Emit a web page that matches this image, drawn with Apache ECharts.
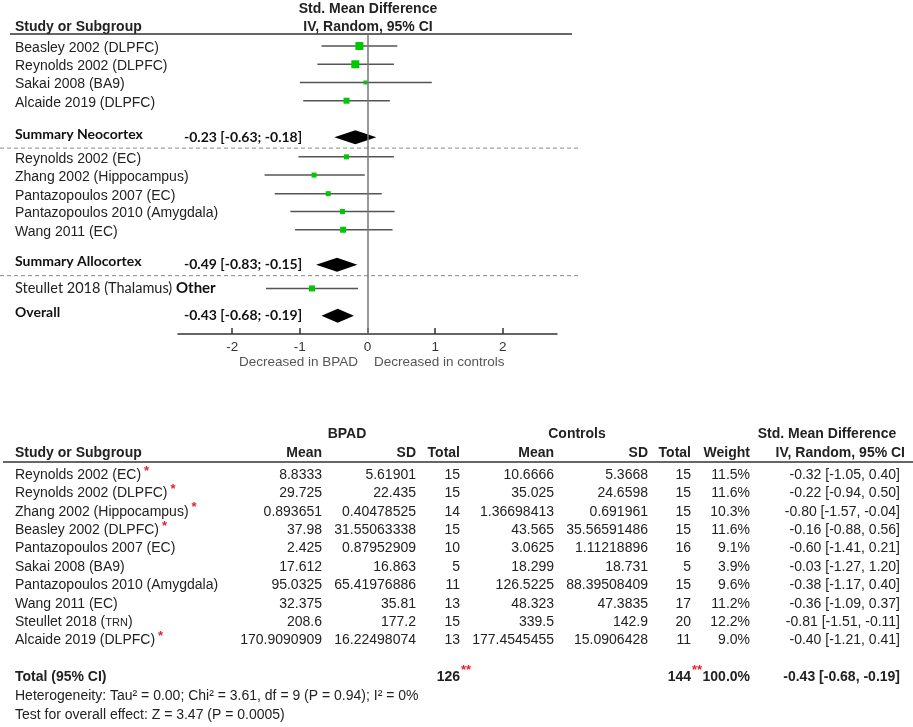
<!DOCTYPE html>
<html lang="en">
<head>
  <meta charset="UTF-8">
  <title>Forest plot</title>
  <script src="https://cdn.jsdelivr.net/npm/echarts@6/dist/echarts.min.js"></script>
  <style>html,body{margin:0;padding:0;background:#fff}#chart{width:913px;height:727px}</style>
</head>
<body>
<div id="chart"></div>
<script>
const studies = ['Beasley 2002 (DLPFC)', 'Reynolds 2002 (DLPFC)', 'Sakai 2008 (BA9)', 'Alcaide 2019 (DLPFC)',
  'Reynolds 2002 (EC)', 'Zhang 2002 (Hippocampus)', 'Pantazopoulos 2007 (EC)', 'Pantazopoulos 2010 (Amygdala)',
  'Wang 2011 (EC)', 'Steullet 2018 (Thalamus)'];
const studyTag = ['', '', '', '', '', '', '', '', '', 'Other'];
const studyRow = [0, 1, 2, 3, 6.08, 7.08, 8.1, 9.08, 10.08, 13.3];
const studyEst = [-0.12, -0.18, -0.03, -0.31, -0.31, -0.79, -0.58, -0.37, -0.36, -0.82];
const studyLo = [-0.68, -0.74, -1.00, -0.95, -1.02, -1.52, -1.37, -1.14, -1.07, -1.50];
const studyHi = [0.44, 0.39, 0.95, 0.33, 0.39, -0.04, 0.21, 0.40, 0.37, -0.14];
const studySize = [8, 8, 4, 6, 5, 5, 5, 5, 6, 6];

const sumLabels = ['Summary Neocortex', 'Summary Allocortex', 'Overall'];
const sumText = ['-0.23 [-0.63; -0.18]', '-0.49 [-0.83; -0.15]', '-0.43 [-0.68; -0.19]'];
const sumRow = [5, 12, 14.8];
const sumEst = [-0.18, -0.45, -0.44];
const sumLo = [-0.49, -0.76, -0.68];
const sumHi = [0.13, -0.15, -0.20];
const sepRow = [5.6, 12.6];
const xTicks = [-2, -1, 0, 1, 2];

// ---- bottom panel: table ----
const tblStudy = ['Reynolds 2002 (EC)', 'Reynolds 2002 (DLPFC)', 'Zhang 2002 (Hippocampus)', 'Beasley 2002 (DLPFC)',
  'Pantazopoulos 2007 (EC)', 'Sakai 2008 (BA9)', 'Pantazopoulos 2010 (Amygdala)', 'Wang 2011 (EC)',
  'Steullet 2018 (TRN)', 'Alcaide 2019 (DLPFC)'];
const tblStar = [1, 1, 1, 1, 0, 0, 0, 0, 0, 1];
const bpadMean = ['8.8333', '29.725', '0.893651', '37.98', '2.425', '17.612', '95.0325', '32.375', '208.6', '170.9090909'];
const bpadSD = ['5.61901', '22.435', '0.40478525', '31.55063338', '0.87952909', '16.863', '65.41976886', '35.81', '177.2', '16.22498074'];
const bpadN = ['15', '15', '14', '15', '10', '5', '11', '13', '15', '13'];
const ctlMean = ['10.6666', '35.025', '1.36698413', '43.565', '3.0625', '18.299', '126.5225', '48.323', '339.5', '177.4545455'];
const ctlSD = ['5.3668', '24.6598', '0.691961', '35.56591486', '1.11218896', '18.731', '88.39508409', '47.3835', '142.9', '15.0906428'];
const ctlN = ['15', '15', '15', '15', '16', '5', '15', '17', '20', '11'];
const weight = ['11.5%', '11.6%', '10.3%', '11.6%', '9.1%', '3.9%', '9.6%', '11.2%', '12.2%', '9.0%'];
const smdCI = ['-0.32 [-1.05, 0.40]', '-0.22 [-0.94, 0.50]', '-0.80 [-1.57, -0.04]', '-0.16 [-0.88, 0.56]',
  '-0.60 [-1.41, 0.21]', '-0.03 [-1.27, 1.20]', '-0.38 [-1.17, 0.40]', '-0.36 [-1.09, 0.37]',
  '-0.81 [-1.51, -0.11]', '-0.40 [-1.21, 0.41]'];
const totalRow = ['Total (95% CI)', '126', '144', '100.0%', '-0.43 [-0.68, -0.19]'];
const footNotes = ['Heterogeneity: Tau\u00b2 = 0.00; Chi\u00b2 = 3.61, df = 9 (P = 0.94); I\u00b2 = 0%',
  'Test for overall effect: Z = 3.47 (P = 0.0005)'];

const ARIAL = 'Liberation Sans';
const CAL = 'Lato';
const INK = '#222';
const FS = 14;

const ctx = document.createElement('canvas').getContext('2d');
function textW(str, font) { ctx.font = font; return ctx.measureText(str).width; }

function txt(x, y, text, opt) {
  opt = opt || {};
  return {
    type: 'text', x: x, y: y, silent: true,
    style: {
      text: text, fill: opt.fill || INK, align: opt.align || 'left', verticalAlign: 'middle',
      font: (opt.bold ? 'bold ' : '') + (opt.size || FS) + 'px "' + (opt.family || ARIAL) + '"'
    }
  };
}

// ---- graphic: headers and table ----
const g = [];
g.push(txt(368, 9, 'Std. Mean Difference', { bold: true, align: 'center' }));
g.push(txt(368, 27, 'IV, Random, 95% CI', { bold: true, align: 'center' }));
g.push(txt(15, 27, 'Study or Subgroup', { bold: true }));
g.push({ type: 'line', silent: true, shape: { x1: 10, y1: 34, x2: 572, y2: 34 }, style: { stroke: '#333', lineWidth: 1.5 } });
g.push(txt(358, 362, 'Decreased in BPAD', { fill: '#555', align: 'right', size: 13.5 }));
g.push(txt(374, 362, 'Decreased in controls', { fill: '#555', size: 13.5 }));

const colRight = [322, 416, 460, 554, 648, 691, 750, 900];
const tblTop = 475, tblStep = 18.4;
g.push(txt(347, 434, 'BPAD', { bold: true, align: 'center' }));
g.push(txt(577, 434, 'Controls', { bold: true, align: 'center' }));
g.push(txt(827, 434, 'Std. Mean Difference', { bold: true, align: 'center' }));
g.push(txt(15, 453, 'Study or Subgroup', { bold: true }));
['Mean', 'SD', 'Total', 'Mean', 'SD', 'Total', 'Weight'].forEach((h, i) => {
  g.push(txt(colRight[i], 453, h, { bold: true, align: 'right' }));
});
g.push(txt(905, 453, 'IV, Random, 95% CI', { bold: true, align: 'right' }));
g.push({ type: 'line', silent: true, shape: { x1: 3, y1: 462, x2: 913, y2: 462 }, style: { stroke: '#333', lineWidth: 1.5 } });

const fontRow = FS + 'px "' + ARIAL + '"';
tblStudy.forEach((name, i) => {
  const y = tblTop + i * tblStep;
  const m = name.match(/^(.*\()(TRN)(\))$/);
  if (m) {
    const w1 = textW(m[1], fontRow);
    g.push(txt(15, y, m[1]));
    g.push(txt(15 + w1, y + 0.5, m[2], { size: 11 }));
    g.push(txt(15 + w1 + textW(m[2], '11px "' + ARIAL + '"'), y, m[3]));
  } else {
    g.push(txt(15, y, name));
  }
  if (tblStar[i]) {
    g.push(txt(15 + textW(name, fontRow) + 3, y - 4, '*', { fill: '#e8202a', bold: true, size: 13 }));
  }
  [bpadMean[i], bpadSD[i], bpadN[i], ctlMean[i], ctlSD[i], ctlN[i], weight[i], smdCI[i]].forEach((v, c) => {
    g.push(txt(colRight[c], y, v, { align: 'right' }));
  });
});
const yTot = 677;
g.push(txt(15, yTot, totalRow[0], { bold: true }));
g.push(txt(colRight[2], yTot, totalRow[1], { bold: true, align: 'right' }));
g.push(txt(colRight[2] + 1, yTot - 7, '**', { fill: '#e8202a', bold: true, size: 13 }));
g.push(txt(colRight[5], yTot, totalRow[2], { bold: true, align: 'right' }));
g.push(txt(colRight[5] + 1, yTot - 7, '**', { fill: '#e8202a', bold: true, size: 13 }));
g.push(txt(colRight[6], yTot, totalRow[3], { bold: true, align: 'right' }));
g.push(txt(colRight[7], yTot, totalRow[4], { bold: true, align: 'right' }));
g.push(txt(15, 696, footNotes[0]));
g.push(txt(15, 715, footNotes[1]));

// ---- series render functions ----
function renderStudy(params, api) {
  const i = params.dataIndex;
  const row = api.value(0);
  const p = api.coord([api.value(1), row]);
  const a = api.coord([api.value(2), row]);
  const b = api.coord([api.value(3), row]);
  const s = api.value(4);
  const kids = [
    { type: 'line', shape: { x1: a[0], y1: p[1], x2: b[0], y2: p[1] }, style: { stroke: '#555', lineWidth: 1.5 } },
    { type: 'rect', shape: { x: p[0] - s / 2, y: p[1] - s / 2, width: s, height: s }, style: { fill: '#00c800' } }
  ];
  if (studyTag[i]) {
    const f = '14.5px "' + CAL + '"';
    kids.push({ type: 'text', x: 15, y: p[1], style: { text: studies[i], font: f, fill: INK, verticalAlign: 'middle' } });
    kids.push({ type: 'text', x: 15 + textW(studies[i] + ' ', f), y: p[1],
      style: { text: studyTag[i], font: 'bold 15px "' + CAL + '"', fill: '#111', verticalAlign: 'middle' } });
  } else {
    kids.push({ type: 'text', x: 15, y: p[1] + 2, style: { text: studies[i], font: fontRow, fill: INK, verticalAlign: 'middle' } });
  }
  return { type: 'group', children: kids };
}

function renderSummary(params, api) {
  const i = params.dataIndex;
  const row = api.value(0);
  const c = api.coord([api.value(1), row]);
  const a = api.coord([api.value(2), row]);
  const b = api.coord([api.value(3), row]);
  const h = 7;
  return {
    type: 'group', children: [
      { type: 'polygon', shape: { points: [[a[0], c[1]], [c[0], c[1] - h], [b[0], c[1]], [c[0], c[1] + h]] }, style: { fill: '#000' } },
      { type: 'text', x: 15, y: c[1] - 3, style: { text: sumLabels[i], font: 'bold 14px "' + CAL + '"', fill: '#111', verticalAlign: 'middle' } },
      { type: 'text', x: 184, y: c[1], style: { text: sumText[i], font: 'bold 14px "' + CAL + '"', fill: '#111', verticalAlign: 'middle' } }
    ]
  };
}

function renderSep(params, api) {
  const p = api.coord([0, api.value(0)]);
  return { type: 'line', shape: { x1: 0, y1: p[1], x2: 580, y2: p[1] }, style: { stroke: '#888', lineWidth: 1, lineDash: [4, 3] } };
}

const chart = echarts.init(document.getElementById('chart'));
chart.setOption({
  animation: false,
  backgroundColor: '#fff',
  grid: { left: 178, width: 379, top: 34, height: 300 },
  xAxis: {
    type: 'value', min: -2.8, max: 2.8,
    axisLine: { show: true, onZero: false, lineStyle: { color: '#333', width: 1.5 } },
    axisTick: { show: true, inside: true, length: 6, customValues: xTicks, lineStyle: { color: '#333', width: 1.5 } },
    axisLabel: { customValues: xTicks, color: '#333', fontSize: 13.5, fontFamily: ARIAL, margin: 6 },
    splitLine: { show: false }
  },
  yAxis: { type: 'value', min: -0.66, max: 15.8, inverse: true, show: false },
  graphic: g,
  series: [
    {
      type: 'custom', renderItem: renderSep, silent: true,
      data: sepRow.map(r => [r]),
      markLine: {
        silent: true, symbol: 'none', label: { show: false },
        lineStyle: { color: '#777', width: 1.5, type: 'solid' },
        data: [{ xAxis: 0 }]
      }
    },
    {
      type: 'custom', renderItem: renderStudy, silent: true,
      data: studies.map((s, i) => [studyRow[i], studyEst[i], studyLo[i], studyHi[i], studySize[i]])
    },
    {
      type: 'custom', renderItem: renderSummary, silent: true,
      data: sumLabels.map((s, i) => [sumRow[i], sumEst[i], sumLo[i], sumHi[i]])
    }
  ]
});
</script>
</body>
</html>
